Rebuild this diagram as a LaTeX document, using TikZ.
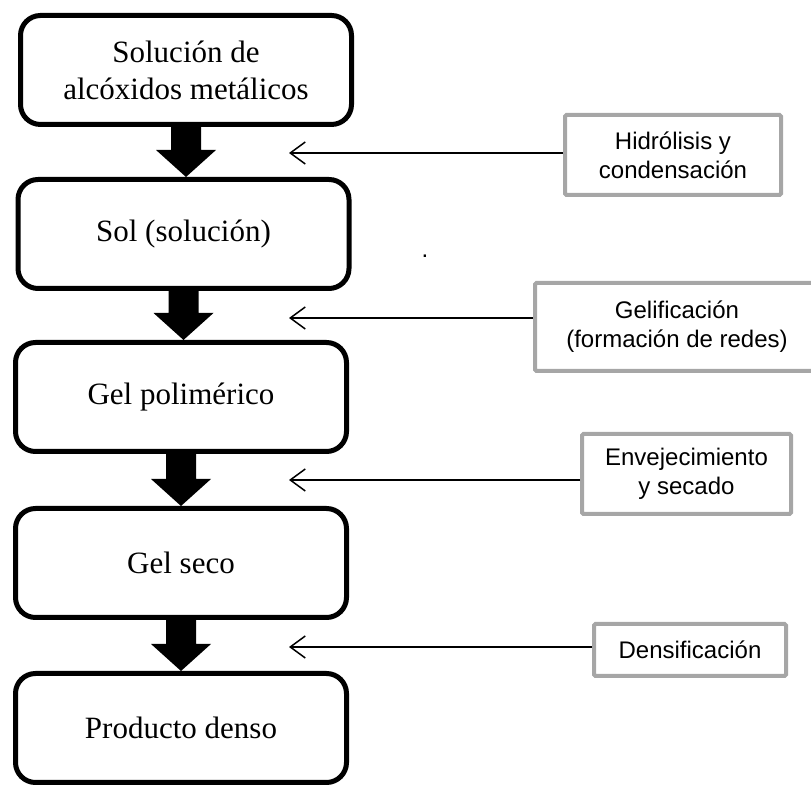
\documentclass[tikz,border=0pt]{standalone}
\usepackage{fontspec}
\setmainfont{Liberation Serif}
\newfontfamily\arialfont{Liberation Sans}
\usepackage{tikz}
\usetikzlibrary{positioning,arrows.meta,calc}
\definecolor{procgray}{HTML}{A6A6A6}
% thick black arrow from the bottom of one stage to the top of the next
\newcommand{\blockdown}[2]{%
  \fill let \p1=(#1.south), \p2=(#2.north) in
    (\x1-15pt,\y1+2pt) -- (\x1+15pt,\y1+2pt) -- (\x1+15pt,\y2+27pt)
    -- (\x1+30pt,\y2+27pt) -- (\x1,\y2) -- (\x1-30pt,\y2+27pt)
    -- (\x1-15pt,\y2+27pt) -- cycle;}

\begin{document}
\begin{tikzpicture}[
   x=1pt, y=1pt,
   node distance=50pt,
   stage/.style={draw,rounded corners=20pt,line width=5pt,minimum width=331pt,
                 minimum height=109pt,align=center,inner sep=0pt,
                 font=\fontsize{31}{37}\selectfont},
   proc/.style={draw=procgray,line width=4pt,rounded corners=1.5pt,align=center,
                inner sep=0pt,font=\arialfont\fontsize{24}{29}\selectfont},
   feed/.style={line width=1.5pt,-{Straight Barb[length=15pt,width=22pt]}},
]
\useasboundingbox (0,0) rectangle (811,786);

% stages
\node[stage] (alc) at (186,716) {Solución de\\alcóxidos metálicos};
\node[stage, below=of alc, xshift=-2.5pt] (sol) {Sol (solución)};
\node[stage, below=49pt of sol, xshift=-2.5pt] (gelp) {Gel polimérico};
\node[stage, below=52pt of gelp] (gels) {Gel seco};
\node[stage, below=51pt of gels] (prod) {Producto denso};

\blockdown{alc}{sol}
\blockdown{sol}{gelp}
\blockdown{gelp}{gels}
\blockdown{gels}{prod}

% processes
\node[proc, minimum width=216pt, minimum height=80pt] (hidro) at (673,631)
        {Hidrólisis y\\condensación};
\node[proc, minimum width=284pt, minimum height=88pt] (gelif) at (677,459)
        {Gelificación\\(formación de redes)};
\node[proc, minimum width=209pt, minimum height=80pt] (envej) at (686.5,312)
        {Envejecimiento\\y secado};
\node[proc, minimum width=192pt, minimum height=52pt] (dens) at (690,136)
        {Densificación};
\node[font=\arialfont\fontsize{24}{29}\selectfont, anchor=base, inner sep=0pt]
        (punto) at (425,528) {.};

\coordinate (tipA) at (289,633);
\coordinate (tipB) at (289,468);
\coordinate (tipC) at (289,306);
\coordinate (tipD) at (289,139);

\draw[feed] (hidro.west |- tipA) -- (tipA);
\draw[feed] (gelif.west |- tipB) -- (tipB);
\draw[feed] (envej.west |- tipC) -- (tipC);
\draw[feed] (dens.west |- tipD) -- (tipD);

\end{tikzpicture}
\end{document}
